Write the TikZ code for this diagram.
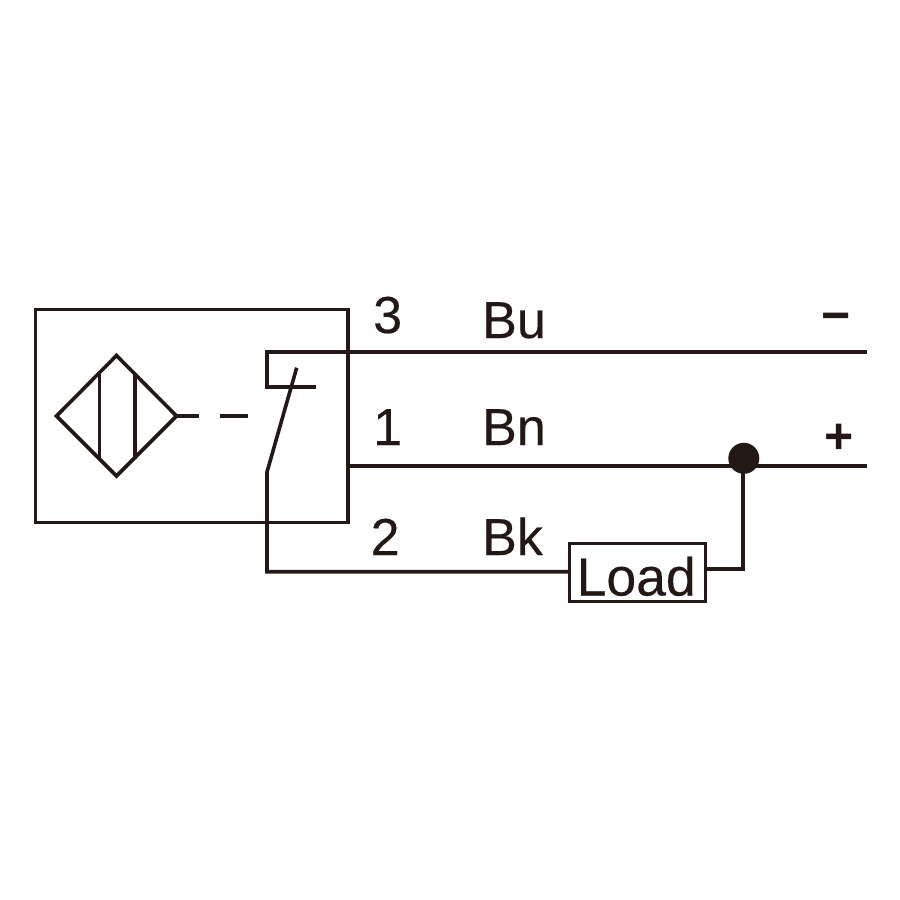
\documentclass[tikz,border=0pt]{standalone}
\usepackage{fontspec}
\setmainfont{Liberation Sans}
\definecolor{ink}{HTML}{231815}
\tikzset{
  wire/.style={draw=ink,line width=3.6pt,line cap=butt,line join=miter},
  lbl/.style={text=ink,font=\fontsize{52}{52}\selectfont\addfontfeature{FakeBold=0.25},inner sep=0pt,anchor=base west},
  sym/.style={text=ink,font=\fontsize{50}{50}\selectfont\bfseries,inner sep=0pt,anchor=base},
  joint/.style={circle,fill=ink,draw=none,minimum size=31pt,inner sep=0pt}
}
\begin{document}
\begin{tikzpicture}[x=1pt,y=-1pt]
\useasboundingbox (0,0) rectangle (900,900);
\fill[white] (0,0) rectangle (900,900);
% housing
\coordinate (boxNW) at (35.3,309.3);
\coordinate (boxSE) at (347.7,522.3);
\draw[wire] (boxNW) rectangle (boxSE);
% sensing symbol
\coordinate (dW) at (56.5,416);
\coordinate (dN) at (116.5,355.5);
\coordinate (dE) at (176.5,416);
\coordinate (dS) at (116.5,476);
\draw[wire] (dW) -- (dN) -- (dE) -- (dS) -- cycle;
\draw[wire] (99.3,373) -- (99.3,459);
\draw[wire] (134.7,373) -- (134.7,459);
% mechanical link
\coordinate (linkA) at (199,416);
\coordinate (linkB) at (220,416);
\coordinate (linkC) at (248,416);
\draw[wire] (dE) -- (linkA);
\draw[wire] (linkB) -- (linkC);
% ends of the wires
\coordinate (wireBuEnd) at (866.7,351.7);
\coordinate (wireBnStart) at (347.7,466);
\coordinate (wireBnEnd) at (866.7,466);
\coordinate (contactTL) at (267,351.7);
\coordinate (contactBL) at (267,387);
\coordinate (contactEnd) at (315.7,387);
\coordinate (armTip) at (296.7,367.7);
\coordinate (armPivot) at (267,472);
\coordinate (loadCorner) at (267,571.7);
% load
\node[draw=ink,line width=3.2pt,minimum width=136pt,minimum height=58pt,inner sep=0pt,anchor=center] (load) at (637.7,572.5) {};
\node[lbl,font=\fontsize{53.5}{53.5}\selectfont\addfontfeature{FakeBold=0.25}] (loadText) at (576.5,595.5) {Load};
% wires
\draw[wire] (wireBuEnd) -- (contactTL) -- (contactBL) -- (contactEnd);
\draw[wire] (armTip) -- (armPivot) -- (loadCorner) -- (load.west |- loadCorner);
\draw[wire] (wireBnStart) -- (wireBnEnd);
\node[joint] (dot) at (743.8,458.3) {};
\coordinate (loadExit) at (742.7,568.7);
\draw[wire] (load.east |- loadExit) -- (loadExit) -- (742.7,458.5);
% labels
\node[lbl] (n3) at (373,333) {3};
\node[lbl] (n1) at (373,445) {1};
\node[lbl] (n2) at (370.5,555) {2};
\node[lbl] (bu) at (482,338) {Bu};
\node[lbl] (bn) at (482,445) {Bn};
\node[lbl] (bk) at (482,555) {Bk};
\node[sym] (minus) at (836,332) {\textminus};
\node[sym] (plus) at (839,453) {+};
\end{tikzpicture}
\end{document}
